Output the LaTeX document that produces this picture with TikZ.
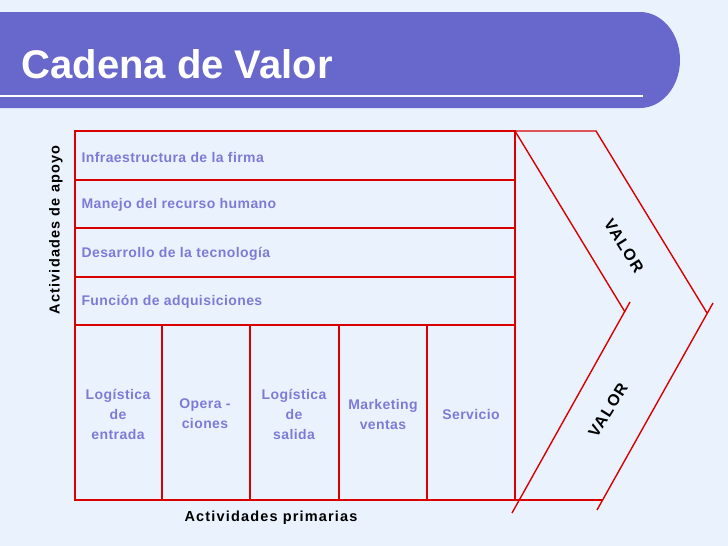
\documentclass[tikz,border=0pt]{standalone}
\usepackage{fontspec}
\setmainfont{Liberation Sans}
\newfontfamily\lblfont[LetterSpace=3]{Liberation Sans}
\newfontfamily\blkfont[LetterSpace=8]{Liberation Sans}
\begin{document}
\begin{tikzpicture}[x=1pt,y=-1pt,
  red line/.style={draw=red!85!black,line width=1.4pt},
  lab/.style={text=lbl,font=\lblfont\bfseries\fontsize{14}{20}\selectfont,align=center},
  blk/.style={text=black,font=\blkfont\bfseries\fontsize{14.5}{16}\selectfont}]
\definecolor{bg}{HTML}{EAF3FD}
\definecolor{hdr}{HTML}{6868CC}
\definecolor{lbl}{HTML}{7C7CD8}
\fill[bg] (0,0) rectangle (728,546);
\useasboundingbox (0,0) rectangle (728,546);
\fill[hdr] (0,12) -- (640,12) arc[start angle=90,end angle=-90,x radius=40,y radius=-48] -- (0,108) -- cycle;
\draw[white,line width=2pt] (0,96) -- (643,96);
\node[anchor=west,text=white,font=\bfseries\fontsize{40}{46}\selectfont] (title) at (18,64) {Cadena de Valor};
% box
\draw[red line] (75,131) rectangle (515,500);
\foreach \y in {180,228,277,325} \draw[red line] (75,\y) -- (515,\y);
\foreach \x in {162,250,339,427} \draw[red line] (\x,325) -- (\x,500);
% arrow
\draw[red line] (515,131) -- (596,131) -- (707,313);
\draw[red line] (515,131) -- (625,312);
\draw[red line] (630,302) -- (512,513);
\draw[red line] (713,303) -- (597,510);
\draw[red line] (515,500) -- (602,500);
\node[blk,font=\blkfont\bfseries\fontsize{16}{18}\selectfont,rotate=-58,inner sep=0pt] (v1) at (624,246) {VALOR};
\node[blk,font=\blkfont\bfseries\fontsize{16}{18}\selectfont,rotate=58,inner sep=0pt] (v2) at (608,410) {VALOR};
% support labels
\node[lab,anchor=west] (s1) at (78,157) {Infraestructura de la firma};
\node[lab,anchor=west] (s2) at (78,205) {Manejo del recurso humano};
\node[lab,anchor=west] (s3) at (78,254) {Desarrollo de la tecnología};
\node[lab,anchor=west] (s4) at (78,302) {Función de adquisiciones};
\node[lab] (p1) at (118,414) {Logística\\de\\entrada};
\node[lab] (p2) at (205,414) {Opera -\\ciones};
\node[lab] (p3) at (294,414) {Logística\\de\\salida};
\node[lab] (p4) at (383,414) {Marketing\\ventas};
\node[lab] (p5) at (471,414) {Servicio};
\node[blk,rotate=90] (ap) at (56,230) {Actividades de apoyo};
\node[blk] (pr) at (271,518) {Actividades primarias};
\end{tikzpicture}
\end{document}
